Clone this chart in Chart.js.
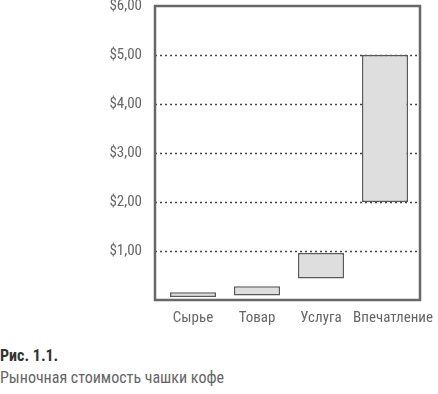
<!DOCTYPE html>
<html>
<head>
<meta charset="utf-8">
<script src="https://cdn.jsdelivr.net/npm/chart.js@4"></script>
<style>
  html, body { margin: 0; padding: 0; background: #fff; }
  body { width: 438px; height: 394px; position: relative; overflow: hidden;
         font-family: 'Roboto Condensed', 'DejaVu Sans Condensed', sans-serif; }
  #wrap { position: absolute; left: 0; top: 0; width: 438px; height: 335px; }
  .fig { position: absolute; left: 0; top: 346px; font-size: 16px; font-weight: bold; color: #333; }
  .cap { position: absolute; left: 0; top: 368px; font-size: 16px; color: #666; }
</style>
</head>
<body>
<div id="wrap"><canvas id="c"></canvas></div>
<div class="fig">Рис. 1.1.</div>
<div class="cap">Рыночная стоимость чашки кофе</div>
<script>
'use strict';

// ── DATA ───────────────────────────────────────────────────────────────────
const CATEGORIES = ['Сырье', 'Товар', 'Услуга', 'Впечатление'];
const LOW  = [0.06, 0.09, 0.44, 2.00];
const HIGH = [0.16, 0.28, 0.96, 5.00];
const Y_TICKS = ['', '$1,00', '$2,00', '$3,00', '$4,00', '$5,00', '$6,00'];

const FONT = "'Roboto Condensed', 'DejaVu Sans Condensed', sans-serif";

// frame + dotted grid, drawn from the y scale
const framePlugin = {
  id: 'frame',
  beforeDatasetsDraw(chart) {
    const { ctx, chartArea: a, scales: { y } } = chart;
    const left = a.left - 6, right = a.right + 3;
    ctx.save();
    ctx.strokeStyle = '#444';
    ctx.lineWidth = 1.5;
    ctx.setLineDash([2, 3]);
    for (let v = 1; v < Y_TICKS.length - 1; v++) {
      const py = Math.round(y.getPixelForValue(v)) + 0.5;
      ctx.beginPath();
      ctx.moveTo(left, py);
      ctx.lineTo(right, py);
      ctx.stroke();
    }
    ctx.restore();
  },
  afterDatasetsDraw(chart) {
    const { ctx, chartArea: a } = chart;
    ctx.save();
    ctx.strokeStyle = '#686868';
    ctx.lineWidth = 2.5;
    ctx.strokeRect(a.left - 6, a.top, a.right - a.left + 9, a.bottom - a.top);
    ctx.restore();
  }
};

// category labels under the bars; the last one is set flush to the right edge
const xLabelPlugin = {
  id: 'xlabels',
  afterDraw(chart) {
    const { ctx, chartArea: a, scales: { x } } = chart;
    ctx.save();
    ctx.font = '15px ' + FONT;
    ctx.fillStyle = '#666';
    ctx.textBaseline = 'top';
    CATEGORIES.forEach((label, i) => {
      if (i === CATEGORIES.length - 1) {
        ctx.textAlign = 'right';
        ctx.fillText(label, chart.width - 5, a.bottom + 11);
      } else {
        ctx.textAlign = 'center';
        ctx.fillText(label, x.getPixelForValue(i), a.bottom + 11);
      }
    });
    ctx.restore();
  }
};

new Chart(document.getElementById('c'), {
  type: 'bar',
  data: {
    labels: CATEGORIES,
    datasets: [{
      data: LOW.map((lo, i) => [lo, HIGH[i]]),
      backgroundColor: '#dedede',
      borderColor: '#5a5a5a',
      borderWidth: 1.5,
      borderSkipped: false,
      barPercentage: 0.72,
      categoryPercentage: 1
    }]
  },
  options: {
    responsive: true,
    maintainAspectRatio: false,
    animation: false,
    layout: { padding: { top: 6, right: 21, left: 0, bottom: 0 } },
    plugins: { legend: { display: false }, tooltip: { enabled: false } },
    scales: {
      x: {
        grid: { display: false },
        border: { display: false },
        ticks: { display: false },
        afterFit: s => { s.height = 35; s.paddingLeft = 0; s.paddingRight = 0; }
      },
      y: {
        min: 0,
        max: 6,
        grid: { display: false },
        border: { display: false },
        ticks: {
          stepSize: 1,
          color: '#666',
          padding: 11,
          font: { family: FONT, size: 15 },
          callback: v => Y_TICKS[v]
        },
        afterFit: s => { s.width = 161; s.paddingTop = 0; s.paddingBottom = 0; }
      }
    }
  },
  plugins: [framePlugin, xLabelPlugin]
});
</script>
</body>
</html>
